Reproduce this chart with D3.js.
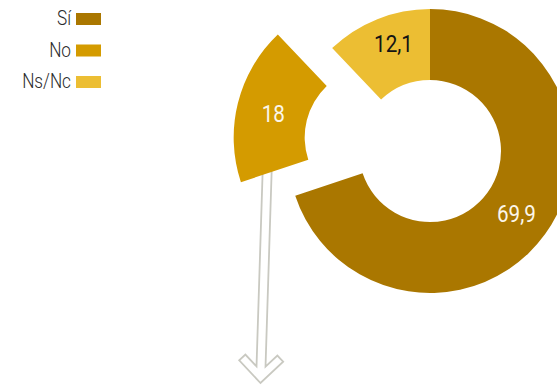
<!DOCTYPE html>
<html lang="es">
<head>
<meta charset="UTF-8">
<title>Donut</title>
<script src="https://d3js.org/d3.v7.min.js"></script>
<style>
  body { margin: 0; background: #fff; }
  svg { display: block; font-family: Roboto, "Noto Sans", sans-serif; }
</style>
</head>
<body>
<svg id="chart"></svg>
<script>
// data
const categories = ["Sí", "No", "Ns/Nc"];
const values = [69.9, 18, 12.1];
const labels = ["69,9", "18", "12,1"];
const colors = ["#aa7700", "#d49b00", "#ecbe33"];
const labelColors = ["#fbf6ea", "#fbf6ea", "#141414"];
const exploded = "No";

const width = 557, height = 388;
const cx = 430, cy = 151;
const outerR = 142, innerR = 71;
const explodeBy = 56;
const squeeze = 0.86; // condensed look

const svg = d3.select("#chart")
    .attr("width", width)
    .attr("height", height);

const table = categories.map((c, i) => ({ cat: c, value: values[i], label: labels[i], color: colors[i], tc: labelColors[i] }));

const pie = d3.pie().sort(null).value(d => d.value).startAngle(0).endAngle(2 * Math.PI);
const arc = d3.arc().innerRadius(innerR).outerRadius(outerR);
const arcs = pie(table);

function offset(d) {
    if (d.data.cat !== exploded) return [0, 0];
    const a = (d.startAngle + d.endAngle) / 2;
    return [Math.sin(a) * explodeBy, -Math.cos(a) * explodeBy];
}

// arrow coming out of the exploded slice (drawn first, slice covers its top)
const arrowLen = 212;
const arrowPath = [
    [-4.5, -arrowLen], [-4.5, -16.5], [-16, -28], [-22, -22], [0, 0],
    [22, -22], [16, -28], [4.5, -16.5], [4.5, -arrowLen]
];
svg.append("path")
    .attr("d", d3.line()(arrowPath) + "Z")
    .attr("transform", "translate(260.5,383) rotate(1.8)")
    .attr("fill", "none")
    .attr("stroke", "#c9c9c1")
    .attr("stroke-width", 1.8);

const g = svg.append("g").attr("transform", `translate(${cx},${cy})`);

const slice = g.selectAll(".slice")
    .data(arcs)
    .join("g")
    .attr("class", "slice")
    .attr("transform", d => `translate(${offset(d)})`);

slice.append("path")
    .attr("d", arc)
    .attr("fill", d => d.data.color);

// label nudges
const nudge = { "Ns/Nc": [3, -8.5], "No": [1, 2] };

slice.append("g")
    .attr("transform", d => {
        const c = arc.centroid(d);
        const n = nudge[d.data.cat] || [0, 0];
        return `translate(${c[0] + n[0]},${c[1] + n[1]}) scale(${squeeze},1)`;
    })
    .append("text")
    .attr("text-anchor", "middle")
    .attr("dy", "0.35em")
    .attr("font-size", 24)
    .attr("font-weight", 400)
    .attr("fill", d => d.data.tc)
    .text(d => d.data.label);

// legend
const legend = svg.append("g").attr("transform", "translate(0,13)");
const row = legend.selectAll(".row")
    .data(table)
    .join("g")
    .attr("class", "row")
    .attr("transform", (d, i) => `translate(0,${i * 31.5})`);

row.append("rect")
    .attr("x", 76)
    .attr("width", 25)
    .attr("height", 12)
    .attr("fill", d => d.color);

row.append("g")
    .attr("transform", `translate(71,12) scale(${squeeze},1)`)
    .append("text")
    .attr("text-anchor", "end")
    .attr("font-size", 20)
    .attr("font-weight", 300)
    .attr("fill", "#2a2a2a")
    .text(d => d.cat);
</script>
</body>
</html>
